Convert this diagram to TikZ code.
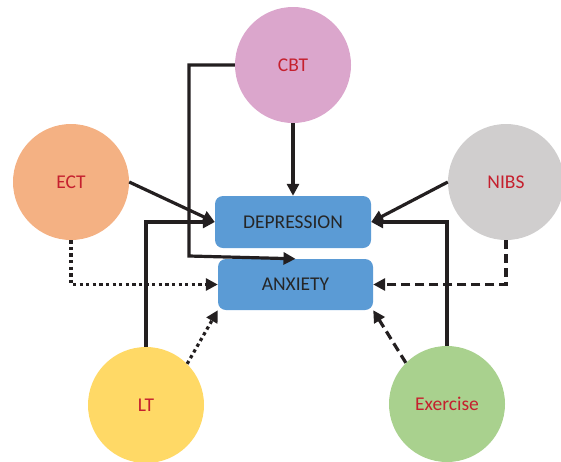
\documentclass[tikz,border=0pt]{standalone}
\usepackage{fontspec}
\setmainfont{Carlito}
\usetikzlibrary{arrows.meta}
\definecolor{cbtc}{HTML}{DBA6CC}
\definecolor{ectc}{HTML}{F4B183}
\definecolor{nibsc}{HTML}{D0CECE}
\definecolor{ltc}{HTML}{FFD966}
\definecolor{exc}{HTML}{A9D18E}
\definecolor{boxc}{HTML}{5B9BD5}
\definecolor{labred}{HTML}{C5202E}
\definecolor{darktext}{HTML}{262626}
\definecolor{linec}{HTML}{231F20}
\tikzset{
  treat/.style={circle,minimum size=116pt,inner sep=0pt,text=labred,font=\fontsize{19.5}{22}\selectfont},
  outcome/.style={rectangle,rounded corners=8pt,fill=boxc,inner sep=0pt,text=darktext,font=\fontsize{19.5}{22}\selectfont},
  conn/.style={draw=linec,line width=3.2pt,-{Triangle[length=12pt,width=12pt]}},
  dotconn/.style={conn,dash pattern=on 3.3pt off 3.3pt},
  dashconn/.style={conn,dash pattern=on 9pt off 5pt}
}
\begin{document}
\begin{tikzpicture}[x=1pt,y=-1pt]
\useasboundingbox (0,0) rectangle (561,461);
\clip (0,0) rectangle (561,461);
\node[treat,fill=cbtc] (cbt) at (293,65) {CBT};
\node[treat,fill=ectc] (ect) at (71,182) {ECT};
\node[treat,fill=nibsc] (nibs) at (506,182) {NIBS};
\node[treat,fill=ltc] (lt) at (146,405) {LT};
\node[treat,fill=exc] (ex) at (447,404) {Exercise};
\node[outcome,minimum width=156pt,minimum height=52pt] (dep) at (293,222) {DEPRESSION};
\node[outcome,minimum width=155pt,minimum height=51pt] (anx) at (295.5,284.5) {ANXIETY};
\coordinate (cbtbend) at (189,256);
\draw[conn] (cbt.south) -- (dep.north);
\draw[conn] (cbt.west) -| (cbtbend) -- (anx.north);
\draw[conn] (ect.east) -- (dep.west);
\draw[conn] (lt.north) |- (dep.west);
\draw[dotconn] (ect.south) |- (anx.west);
\draw[dotconn] (lt.45) -- (anx.south west);
\draw[conn] (nibs.west) -- (dep.east);
\draw[conn] (ex.north) |- (dep.east);
\draw[dashconn] (nibs.south) |- (anx.east);
\draw[dashconn] (ex.135) -- (anx.south east);
\end{tikzpicture}
\end{document}
